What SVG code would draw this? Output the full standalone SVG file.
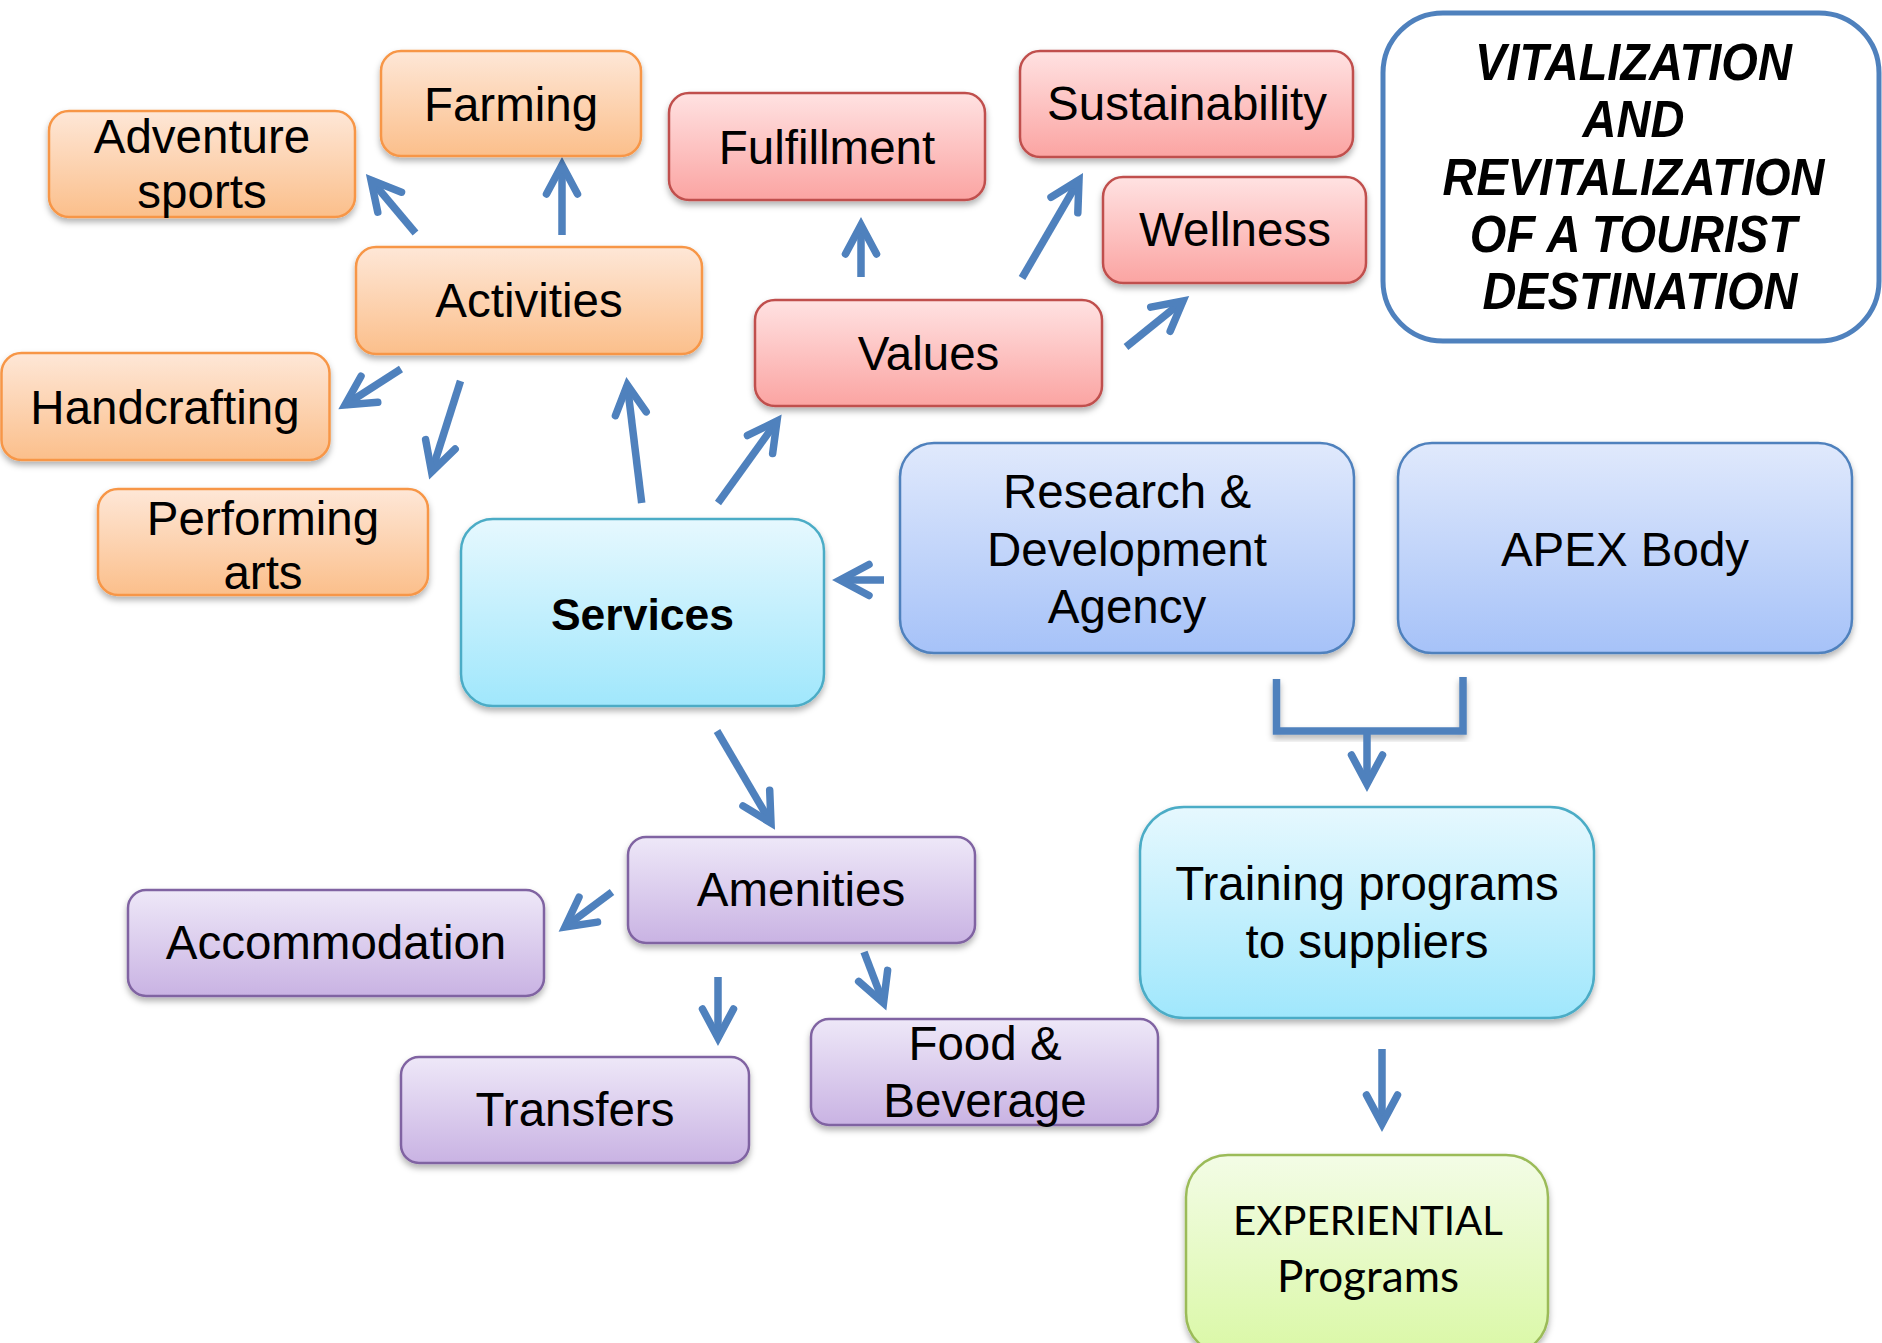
<svg xmlns="http://www.w3.org/2000/svg" width="1882" height="1343" viewBox="0 0 1882 1343">
<defs>
<linearGradient id="gOr" x1="0" y1="0" x2="0" y2="1"><stop offset="0" stop-color="#FEE7D7"/><stop offset="1" stop-color="#FBBF8B"/></linearGradient>
<linearGradient id="gRd" x1="0" y1="0" x2="0" y2="1"><stop offset="0" stop-color="#FFE2E2"/><stop offset="1" stop-color="#FBA4A2"/></linearGradient>
<linearGradient id="gCy" x1="0" y1="0" x2="0" y2="1"><stop offset="0" stop-color="#E6F8FE"/><stop offset="1" stop-color="#A0E7FC"/></linearGradient>
<linearGradient id="gBl" x1="0" y1="0" x2="0" y2="1"><stop offset="0" stop-color="#E0E9FC"/><stop offset="1" stop-color="#A6C2F8"/></linearGradient>
<linearGradient id="gPu" x1="0" y1="0" x2="0" y2="1"><stop offset="0" stop-color="#EEE8F8"/><stop offset="1" stop-color="#C9B3E3"/></linearGradient>
<linearGradient id="gGr" x1="0" y1="0" x2="0" y2="1"><stop offset="0" stop-color="#F3FCE6"/><stop offset="1" stop-color="#DAF8A6"/></linearGradient>
<filter id="sh" x="-10%" y="-10%" width="120%" height="130%"><feDropShadow dx="0" dy="4" stdDeviation="3" flood-color="#000" flood-opacity="0.3"/></filter>
<marker id="ah" markerUnits="userSpaceOnUse" viewBox="-40 -20 44 40" refX="0" refY="0" markerWidth="44" markerHeight="40" orient="auto" overflow="visible">
<path d="M -29 -15.5 L 0 0 L -29 15.5" fill="none" stroke="#4F81BD" stroke-width="7.5" stroke-linecap="round" stroke-linejoin="miter"/>
</marker>
<style>
.t{font-family:"Liberation Sans",Arial,sans-serif;font-size:47.5px;fill:#000;text-anchor:middle}
.or{fill:url(#gOr);stroke:#F79646;stroke-width:2.5}
.rd{fill:url(#gRd);stroke:#C0504D;stroke-width:2.5}
.cy{fill:url(#gCy);stroke:#4BACC6;stroke-width:2.5}
.bl{fill:url(#gBl);stroke:#4F81BD;stroke-width:2.5}
.pu{fill:url(#gPu);stroke:#8064A2;stroke-width:2.5}
.gr{fill:url(#gGr);stroke:#9BBB59;stroke-width:2.5}
.box{filter:url(#sh)}
.c{fill:none;stroke:#4F81BD;stroke-width:7.5;stroke-linecap:butt;marker-end:url(#ah)}
</style>
</defs>
<rect width="1882" height="1343" fill="#fff"/>

<g id="connectors">
<line class="c" x1="415.5" y1="233" x2="371" y2="180"/>
<line class="c" x1="562" y1="235" x2="562" y2="165"/>
<line class="c" x1="401" y1="369" x2="345" y2="405"/>
<line class="c" x1="460.5" y1="381" x2="431.6" y2="472"/>
<line class="c" x1="641.7" y1="503" x2="627.3" y2="385"/>
<line class="c" x1="718" y1="503" x2="777" y2="421"/>
<line class="c" x1="861" y1="277" x2="861" y2="225"/>
<line class="c" x1="1022" y1="278" x2="1079" y2="180"/>
<line class="c" x1="1126" y1="347" x2="1183" y2="301"/>
<line class="c" x1="884" y1="580" x2="840" y2="580"/>
<line class="c" x1="717" y1="731" x2="771" y2="823"/>
<line class="c" x1="612" y1="892" x2="565" y2="927"/>
<line class="c" x1="718" y1="977" x2="718" y2="1038"/>
<line class="c" x1="864" y1="952" x2="883.5" y2="1003"/>
<path d="M1276.5 679 V731 H1463 V677" fill="none" stroke="#4F81BD" stroke-width="7.5" filter="url(#sh)"/>
<line class="c" x1="1367" y1="731" x2="1367" y2="784"/>
<line class="c" x1="1382" y1="1049" x2="1382" y2="1124"/>
</g>

<g id="title">
<rect x="1383" y="13" width="496" height="328" rx="60" fill="#fff" stroke="#4F81BD" stroke-width="5"/>
<text class="t" style="font-weight:bold;font-style:italic;font-size:47px" transform="scale(1,1.09)">
<tspan x="1640" y="73.4">VITALIZATION</tspan>
<tspan x="1640" y="125.7">AND</tspan>
<tspan x="1640" y="178.9">REVITALIZATION</tspan>
<tspan x="1640" y="231.2">OF A TOURIST</tspan>
<tspan x="1640" y="283.5">DESTINATION</tspan>
</text>
</g>

<g id="adventure-sports">
<rect class="or box" x="49" y="111" width="306" height="106" rx="20"/>
<text class="t"><tspan x="202" y="153">Adventure</tspan><tspan x="202" y="208">sports</tspan></text>
</g>
<g id="farming">
<rect class="or box" x="381" y="51" width="260" height="105" rx="20"/>
<text class="t" x="511" y="121">Farming</text>
</g>
<g id="activities">
<rect class="or box" x="356" y="247" width="346" height="107" rx="20"/>
<text class="t" x="529" y="317">Activities</text>
</g>
<g id="handcrafting">
<rect class="or box" x="1.5" y="353" width="328" height="107" rx="20"/>
<text class="t" x="165" y="424">Handcrafting</text>
</g>
<g id="performing-arts">
<rect class="or box" x="98" y="489" width="330" height="106" rx="20"/>
<text class="t"><tspan x="263" y="535">Performing</tspan><tspan x="263" y="589">arts</tspan></text>
</g>

<g id="fulfillment">
<rect class="rd box" x="669" y="93" width="316" height="107" rx="20"/>
<text class="t" x="827" y="164">Fulfillment</text>
</g>
<g id="sustainability">
<rect class="rd box" x="1020" y="51" width="333" height="106" rx="20"/>
<text class="t" x="1187" y="120">Sustainability</text>
</g>
<g id="wellness">
<rect class="rd box" x="1103" y="177" width="263" height="106" rx="20"/>
<text class="t" x="1235" y="246">Wellness</text>
</g>
<g id="values">
<rect class="rd box" x="755" y="300" width="347" height="106" rx="20"/>
<text class="t" x="928.5" y="370">Values</text>
</g>

<g id="services">
<rect class="cy box" x="461" y="519" width="363" height="187" rx="32"/>
<text class="t" style="font-weight:bold;font-size:44.5px" x="642.5" y="630">Services</text>
</g>
<g id="research-development-agency">
<rect class="bl box" x="900" y="443" width="454" height="210" rx="34"/>
<text class="t"><tspan x="1127" y="508">Research &amp;</tspan><tspan x="1127" y="566">Development</tspan><tspan x="1127" y="623">Agency</tspan></text>
</g>
<g id="apex-body">
<rect class="bl box" x="1398" y="443" width="454" height="210" rx="34"/>
<text class="t" x="1625" y="566">APEX Body</text>
</g>

<g id="amenities">
<rect class="pu box" x="628" y="837" width="347" height="106" rx="18"/>
<text class="t" x="801" y="906">Amenities</text>
</g>
<g id="accommodation">
<rect class="pu box" x="128" y="890" width="416" height="106" rx="18"/>
<text class="t" x="336" y="959">Accommodation</text>
</g>
<g id="transfers">
<rect class="pu box" x="401" y="1057" width="348" height="106" rx="18"/>
<text class="t" x="575" y="1126">Transfers</text>
</g>
<g id="food-beverage">
<rect class="pu box" x="811" y="1019" width="347" height="106" rx="18"/>
<text class="t"><tspan x="985" y="1060">Food &amp;</tspan><tspan x="985" y="1117">Beverage</tspan></text>
</g>

<g id="training-programs">
<rect class="cy box" x="1140" y="807" width="454" height="211" rx="44"/>
<text class="t"><tspan x="1367" y="900">Training programs</tspan><tspan x="1367" y="958">to suppliers</tspan></text>
</g>
<g id="experiential-programs">
<rect class="gr box" x="1186" y="1155" width="362" height="200" rx="42"/>
<text class="t" style="font-family:Lato,'Open Sans',sans-serif;font-size:41px" x="1368" y="1235" textLength="270" lengthAdjust="spacingAndGlyphs">EXPERIENTIAL</text>
<text class="t" style="font-family:Lato,'Open Sans',sans-serif;font-size:44px" x="1368" y="1292" textLength="182" lengthAdjust="spacingAndGlyphs">Programs</text>
</g>
</svg>
